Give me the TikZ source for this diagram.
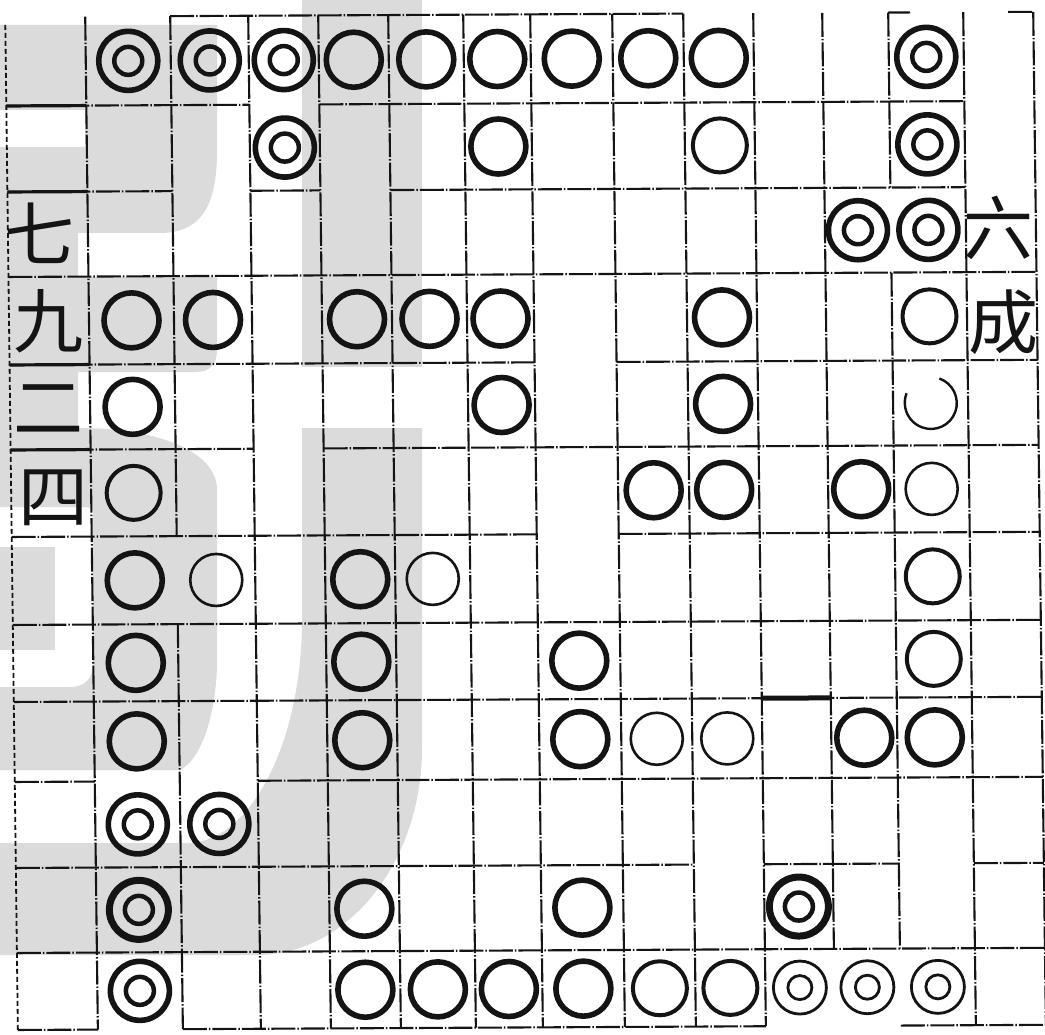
\documentclass[tikz,border=0pt]{standalone}
\usepackage{fontspec}
\usepackage{xcolor}
\usepackage{tikz}
\newfontfamily\cjk{Noto Sans CJK SC}
\definecolor{InkBlack}{RGB}{20,20,20}
\definecolor{MarkGray}{RGB}{219,219,219}
\def\vx{{5,85,170,248,318,388,463,530,612,683,753,822,888,963,1033}}
\def\hy{{17,106,192,277,365,450,537,625,702,782,868,953,1030}}

\begin{document}
\begin{tikzpicture}[x=1pt,y=-1pt,
    gridline/.style={InkBlack, line width=2.1pt, dash pattern=on 24pt off 2pt on 1.5pt off 2pt},
    borderline/.style={InkBlack, line width=1.8pt, dash pattern=on 5pt off 3pt},
    ring/.style={circle, draw=InkBlack, inner sep=0pt, minimum size=55pt, line width=5.6pt},
    midring/.style={ring, minimum size=54pt, line width=4pt},
    thinring/.style={ring, minimum size=52pt, line width=2.6pt},
    dring/.style={ring, minimum size=59pt, path picture={\draw[InkBlack, line width=4.5pt] (path picture bounding box.center) circle[radius=14pt];}},
    heavydring/.style={dring, line width=7pt},
    thindring/.style={ring, minimum size=53pt, line width=2.8pt, path picture={\draw[InkBlack, line width=2.8pt] (path picture bounding box.center) circle[radius=12pt];}},
    numeral/.style={font=\cjk\fontsize{70}{70}\selectfont, text=InkBlack, inner sep=0pt}]
  \path[use as bounding box] (0,0) rectangle (1045,1035);
  \fill[white] (0,0) rectangle (1045,1035);
  \fill[MarkGray, even odd rule] (0,25) -- (217,25) -- (217,150) .. controls (217,200) and (205,233) .. (160,233)
    -- (78,233) -- (78,277) -- (217,277) -- (217,350) .. controls (217,364) and (210,372) .. (196,372)
    -- (78,372) -- (78,428) .. controls (155,428) and (217,450) .. (217,490)
    -- (217,667) .. controls (215,720) and (200,760) .. (180,770) -- (0,770) -- (0,687)
    -- (70,687) .. controls (85,687) and (93,678) .. (93,665) -- (93,513) .. controls (93,509) and (90,507) .. (85,507)
    -- (0,507) -- cycle (0,110) rectangle (85,147);
  \fill[MarkGray] (0,547) rectangle (55,650);
  \fill[MarkGray] (302,0) rectangle (422,367);
  \fill[MarkGray] (302,428) -- (422,428) -- (422,748) .. controls (422,862) and (348,955) .. (257,955)
    -- (0,955) -- (0,843) -- (187,843) .. controls (250,843) and (302,743) .. (302,620) -- cycle;

  \begin{scope}[cm={1,0.005,-0.0125,1,(0,0)}]
    \foreach \j/\a/\b in {0/2/9, 1/0/3, 1/4/13, 2/0/2, 2/3/4, 2/5/13, 3/0/14, 4/0/7, 4/8/14,
        5/0/3, 5/4/14, 6/0/7, 6/8/14, 7/0/14, 8/0/14, 9/0/1, 9/3/14, 10/0/9, 10/10/12, 10/13/14,
        11/0/14, 12/0/1, 12/2/10, 12/12/14}{
      \pgfmathsetmacro\xa{\vx[\a]}
      \pgfmathsetmacro\xb{\vx[\b]}
      \pgfmathsetmacro\yj{\hy[\j]}
      \draw[gridline] (\xa,\yj) -- (\xb,\yj);
    }
    \draw[gridline] (888,17) -- (910,17);
    \draw[gridline] (1008,17) -- (1033,17);
    \foreach \i/\a/\b in {1/0/12, 2/0/6, 2/7/12, 3/0/12, 4/0/12, 5/0/12, 6/0/12, 7/0/12, 8/0/12,
        9/0/12, 10/0/12, 11/0/11, 12/0/2, 12/3/11, 13/0/12, 14/0/12}{
      \pgfmathsetmacro\xi{\vx[\i]}
      \pgfmathsetmacro\ya{\hy[\a]}
      \pgfmathsetmacro\yb{\hy[\b]}
      \draw[gridline] (\xi,\ya) -- (\xi,\yb);
    }
    \draw[borderline] (5,25) -- (5,1030);
    \foreach \j in {1,2,4,5}{
      \pgfmathsetmacro\yj{\hy[\j]}
      \draw[InkBlack, line width=3.2pt] (5,\yj) -- (85,\yj);
    }
    \draw[InkBlack, line width=5pt] (753,702) -- (822,702);

    \foreach \c/\r/\k in {1/0/dring, 2/0/dring, 3/0/dring, 4/0/ring, 5/0/ring, 6/0/ring, 7/0/ring, 8/0/ring, 9/0/ring, 12/0/dring,
        3/1/dring, 6/1/ring, 9/1/midring, 12/1/dring,
        11/2/dring, 12/2/dring,
        1/3/ring, 2/3/ring, 4/3/ring, 5/3/ring, 6/3/ring, 9/3/ring, 12/3/midring,
        1/4/ring, 6/4/ring, 9/4/ring,
        1/5/midring, 8/5/ring, 9/5/ring, 11/5/ring, 12/5/thinring,
        1/6/ring, 2/6/thinring, 4/6/ring, 5/6/thinring, 12/6/midring,
        1/7/ring, 4/7/ring, 7/7/ring, 12/7/midring,
        1/8/ring, 4/8/ring, 7/8/ring, 8/8/thinring, 9/8/thinring, 11/8/ring, 12/8/ring,
        1/9/dring, 2/9/dring,
        1/10/heavydring, 4/10/ring, 7/10/ring, 10/10/heavydring,
        1/11/dring, 4/11/ring, 5/11/ring, 6/11/ring, 7/11/ring, 8/11/midring, 9/11/midring,
        10/11/thindring, 11/11/thindring, 12/11/thindring}{
      \pgfmathtruncatemacro\cn{\c+1}
      \pgfmathtruncatemacro\rn{\r+1}
      \pgfmathsetmacro\xa{\vx[\c]}
      \pgfmathsetmacro\xb{\vx[\cn]}
      \pgfmathsetmacro\ya{\hy[\r]}
      \pgfmathsetmacro\yb{\hy[\rn]}
      \node[\k] (m-\c-\r) at ({(\xa+\xb)/2},{(\ya+\yb)/2}) {};
    }
    \coordinate (m-12-4) at (925.5,407.5);
    \draw[InkBlack, line width=2.4pt] ([shift={(-70:26)}]m-12-4) arc[start angle=-70, end angle=202, radius=26];

    \node[numeral] (qi) at (37,233) {七};
    \node[numeral] (jiu) at (44,322) {九};
    \node[numeral] (er) at (43,409) {二};
    \node[numeral] (si) at (47,498) {四};
    \node[numeral] (liu) at (996,233) {六};
    \node[numeral] (cheng) at (999,327) {成};
  \end{scope}
\end{tikzpicture}
\end{document}
